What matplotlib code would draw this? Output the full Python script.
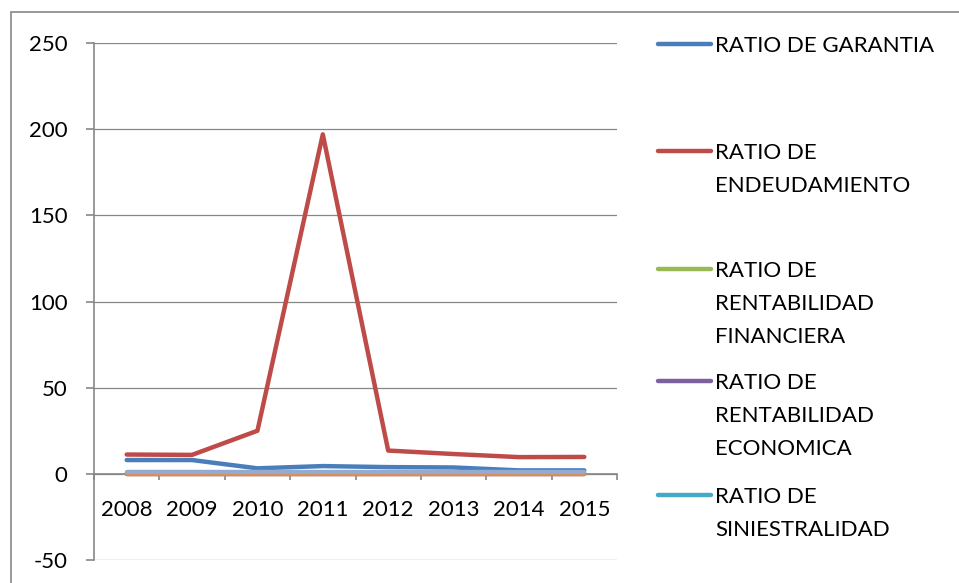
import numpy as np
import matplotlib.pyplot as plt
from matplotlib.lines import Line2D
from matplotlib.patches import Rectangle

# datos
years = ["2008", "2009", "2010", "2011", "2012", "2013", "2014", "2015"]
garantia = [8.0, 8.0, 3.2, 4.5, 3.9, 3.7, 2.0, 2.0]
endeudamiento = [11.2, 11.0, 25.0, 197.0, 13.5, 11.5, 9.7, 9.8]
rent_financiera = [0.2, 0.2, 0.1, 0.1, 0.1, 0.1, 0.1, 0.1]
rent_economica = [0.1, 0.1, 0.1, 0.1, 0.1, 0.1, 0.1, 0.1]
siniestralidad = [0.5, 0.5, 0.5, 0.5, 0.5, 0.5, 0.5, 0.5]
serie_6 = [-0.3, -0.3, -0.3, -0.3, -0.3, -0.3, -0.3, -0.3]
serie_7 = [1.0, 1.0, 1.0, 1.0, 1.0, 1.0, 1.0, 1.0]

legend_labels = ["RATIO DE GARANTIA",
                 "RATIO DE\nENDEUDAMIENTO",
                 "RATIO DE\nRENTABILIDAD\nFINANCIERA",
                 "RATIO DE\nRENTABILIDAD\nECONOMICA",
                 "RATIO DE\nSINIESTRALIDAD"]
colors = ["#4A7EBB", "#BE4B48", "#98B954", "#7D60A0", "#46AAC5"]
extra_colors = ["#E8893B", "#93AAD2"]

plt.rcParams["font.family"] = ["Lato", "DejaVu Sans"]
plt.rcParams["axes.unicode_minus"] = False
grid_col = "#878787"
fs = 16

fig = plt.figure(figsize=(9.59, 5.83), dpi=100)
W, H = 959, 583
ax = fig.add_axes([94 / W, (H - 560) / H, (617 - 94) / W, (560 - 43) / H])

x = np.arange(len(years))
series = [garantia, endeudamiento, rent_financiera, rent_economica, siniestralidad]
for vals, c in zip(series, colors):
    ax.plot(x, vals, color=c, lw=3.2, solid_capstyle="round", solid_joinstyle="round", zorder=3)
for vals, c in zip([serie_6, serie_7], extra_colors):
    ax.plot(x, vals, color=c, lw=3.2, solid_capstyle="round", solid_joinstyle="round", zorder=3)

ax.set_xlim(-0.5, len(years) - 0.5)
ax.set_ylim(-50, 250)
ax.set_yticks(np.arange(-50, 251, 50))
ax.yaxis.grid(True, color=grid_col, lw=0.9)
ax.set_axisbelow(True)

for s in ["top", "right"]:
    ax.spines[s].set_visible(False)
ax.spines["left"].set_color(grid_col)
ax.spines["left"].set_linewidth(1.2)
ax.spines["bottom"].set_position(("data", 0))
ax.spines["bottom"].set_color(grid_col)
ax.spines["bottom"].set_linewidth(1.2)

ax.set_xticks(x)
ax.set_xticklabels(years)
ax.set_xticks(np.arange(-0.5, len(years), 1.0), minor=True)
ax.tick_params(axis="x", which="major", length=0, pad=19, labelsize=fs)
ax.tick_params(axis="x", which="minor", length=4, color=grid_col, width=1.2, direction="out")
ax.tick_params(axis="y", length=6, color=grid_col, width=1.2, pad=13, labelsize=fs)

# borde del area del grafico
fig.add_artist(Rectangle((11 / W, -0.1), 2.0, (H - 12) / H + 0.1, transform=fig.transFigure,
                         fill=False, edgecolor=grid_col, lw=1.2))

# leyenda manual
tops = [44, 151, 269, 381, 495]
for lab, c, ty in zip(legend_labels, colors, tops):
    yf = 1 - ty / H
    fig.add_artist(Line2D([658 / W, 711 / W], [yf, yf], color=c, lw=3.2,
                          solid_capstyle="round", transform=fig.transFigure))
    fig.text(715 / W, yf + 8 / H, lab, fontsize=fs, va="top", ha="left", linespacing=1.8)

fig.savefig("out.png", dpi=100)
